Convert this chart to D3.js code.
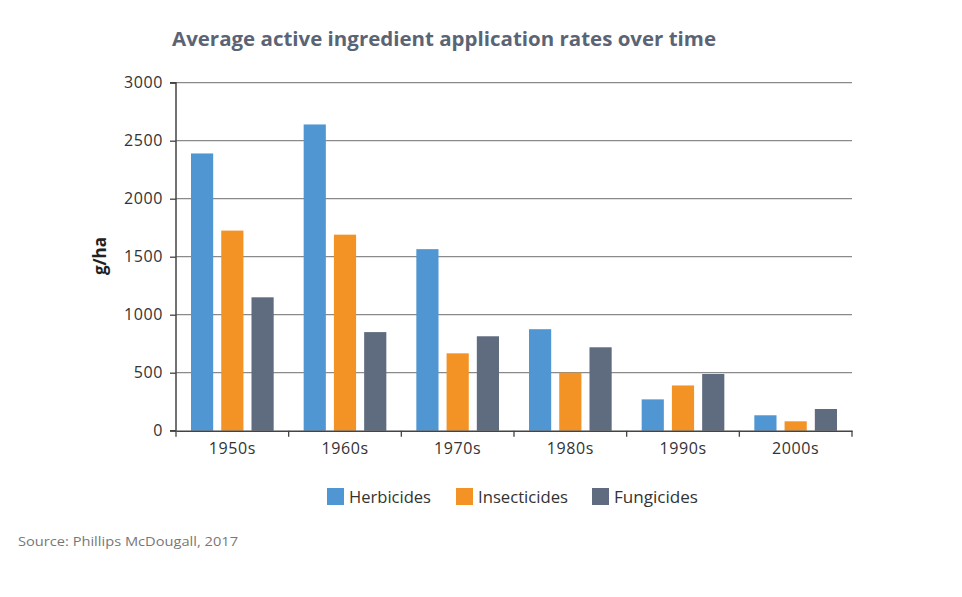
<!DOCTYPE html>
<html><head><meta charset="utf-8">
<script src="https://cdn.jsdelivr.net/npm/d3@7"></script>
<style>body{margin:0;background:#fff}svg{display:block}</style>
</head><body><svg id="c" width="962" height="597"></svg>
<script>
const categories = ["1950s","1960s","1970s","1980s","1990s","2000s"];
const seriesNames = ["Herbicides","Insecticides","Fungicides"];
const herbicides = [2390, 2640, 1565, 875, 270, 133];
const insecticides = [1725, 1690, 667, 500, 390, 81];
const fungicides = [1150, 850, 814, 719, 489, 187];
const yTicks = [0, 500, 1000, 1500, 2000, 2500, 3000];
const colors = ["#5096d2", "#f39325", "#5f6b7e"];
const seriesValues = [herbicides, insecticides, fungicides];

const svg = d3.select("#c");
const font = "'Open Sans', sans-serif";
const m = {l:176, r:852, t:82.7, b:430.7};

const x = d3.scaleBand().domain(categories).range([m.l, m.r]).paddingInner(0).paddingOuter(0);
const xs = d3.scaleBand().domain(seriesNames).range([15, x.bandwidth()-15]).paddingInner(8/30).paddingOuter(0);
const y = d3.scaleLinear().domain([0, 3000]).range([m.b, m.t]);

// gridlines
svg.append("g").selectAll("line").data(yTicks.filter(d=>d>0)).join("line")
  .attr("x1", m.l).attr("x2", m.r).attr("y1", d=>y(d)).attr("y2", d=>y(d))
  .attr("stroke", "#8a8a8a").attr("stroke-width", 1.3);

// bars
const g = svg.append("g");
seriesNames.forEach((s, si) => {
  g.selectAll(null).data(categories).join("rect")
    .attr("x", c => x(c) + xs(s))
    .attr("width", xs.bandwidth())
    .attr("y", (c, i) => y(seriesValues[si][i]))
    .attr("height", (c, i) => y(0) - y(seriesValues[si][i]))
    .attr("fill", colors[si]);
});

// y axis
const yAxis = svg.append("g").attr("transform", `translate(${m.l},0)`)
  .call(d3.axisLeft(y).tickValues(yTicks).tickSize(6).tickPadding(7).tickFormat(d3.format("d")));
yAxis.select(".domain").attr("stroke", "#444").attr("stroke-width", 1.5).attr("d", `M-6,${m.t}H0V${m.b}H-6`);
yAxis.selectAll(".tick line").attr("stroke", "#444").attr("stroke-width", 1.3);
yAxis.selectAll("text").attr("font-family", font).attr("font-size", 16).attr("fill", "#333")
  .attr("letter-spacing", 0.6);

// x axis
const xAxis = svg.append("g").attr("transform", `translate(0,${m.b})`)
  .call(d3.axisBottom(x).tickSize(0).tickPadding(12));
xAxis.select(".domain").attr("stroke", "#444").attr("stroke-width", 1.5);
xAxis.selectAll("text").attr("font-family", font).attr("font-size", 16).attr("fill", "#333")
  .attr("letter-spacing", 0.6);
// boundary ticks
const bounds = categories.map(c => x(c)).concat([m.r]);
svg.append("g").selectAll("line").data(bounds).join("line")
  .attr("x1", d=>d).attr("x2", d=>d).attr("y1", m.b).attr("y2", m.b+6)
  .attr("stroke", "#444").attr("stroke-width", 1.3);

// y label
svg.append("text").attr("transform", `translate(106,256) rotate(-90)`)
  .attr("text-anchor", "middle").attr("font-family", font).attr("font-weight", "bold")
  .attr("font-size", 17).attr("fill", "#222").text("g/ha");

// title
svg.append("text").attr("x", 172).attr("y", 46).attr("font-family", font)
  .attr("font-weight", "bold").attr("font-size", 20).attr("fill", "#5a6474")
  .attr("textLength", 544).attr("lengthAdjust", "spacingAndGlyphs")
  .text("Average active ingredient application rates over time");

// legend
const legX = [327, 456, 592];
const legW = [82, 90, 84];
const leg = svg.append("g");
seriesNames.forEach((s, i) => {
  leg.append("rect").attr("x", legX[i]).attr("y", 488).attr("width", 17).attr("height", 17).attr("fill", colors[i]);
  leg.append("text").attr("x", legX[i] + 22).attr("y", 503).attr("font-family", font)
    .attr("font-size", 16).attr("fill", "#333")
    .attr("textLength", legW[i]).attr("lengthAdjust", "spacingAndGlyphs").text(s);
});

// source
svg.append("text").attr("x", 18).attr("y", 546).attr("font-family", font)
  .attr("font-size", 13.5).attr("fill", "#777")
  .attr("textLength", 220).attr("lengthAdjust", "spacingAndGlyphs")
  .text("Source: Phillips McDougall, 2017");
</script></body></html>
